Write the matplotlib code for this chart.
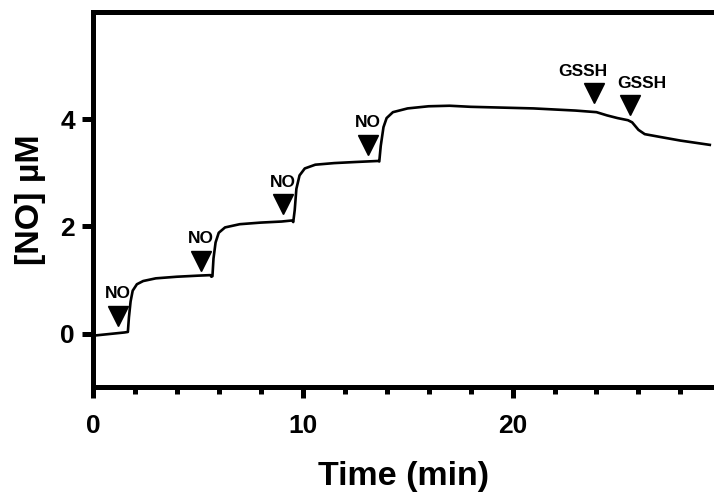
import matplotlib
matplotlib.use("Agg")
import matplotlib.pyplot as plt

# Trace data (time in min, [NO] in µM)
time_min = [0.0, 0.5, 1.0, 1.5, 1.67, 1.72, 1.8, 1.9, 2.1, 2.4, 3.0, 4.0, 5.0, 5.6,
            5.65, 5.7, 5.75, 5.85, 6.0, 6.3, 7.0, 8.0, 9.0, 9.5,
            9.55, 9.62, 9.7, 9.85, 10.1, 10.6, 11.5, 12.5, 13.6,
            13.65, 13.72, 13.85, 14.0, 14.3, 15.0, 16.0, 17.0, 18.0, 19.0, 20.0,
            21.0, 22.0, 23.0, 24.0, 24.5, 25.0, 25.5, 25.7, 26.0, 26.3, 27.0, 28.0, 29.4]
no_conc = [-0.04, -0.02, 0.0, 0.02, 0.03, 0.3, 0.6, 0.8, 0.92, 0.98, 1.03, 1.06, 1.08, 1.09,
           1.06, 1.07, 1.4, 1.7, 1.88, 1.98, 2.04, 2.07, 2.09, 2.11,
           2.08, 2.3, 2.7, 2.95, 3.08, 3.15, 3.18, 3.2, 3.22,
           3.21, 3.5, 3.85, 4.02, 4.13, 4.2, 4.24, 4.25, 4.23, 4.22, 4.21,
           4.2, 4.18, 4.16, 4.13, 4.07, 4.02, 3.98, 3.94, 3.8, 3.72, 3.67, 3.6, 3.52]

# Addition markers
mark_labels = ["NO", "NO", "NO", "NO", "GSSH", "GSSH"]
mark_x = [1.19, 5.14, 9.05, 13.1, 23.9, 25.6]
mark_y = [0.33, 1.36, 2.41, 3.52, 4.48, 4.26]
label_dx = [0.0, 0.0, 0.0, 0.0, -0.55, 0.55]

plt.rcParams['font.family'] = ['Liberation Sans', 'DejaVu Sans']
plt.rcParams['font.weight'] = 'bold'

fig = plt.figure(figsize=(7.14, 4.97), dpi=100)
ax = fig.add_axes([0.130, 0.221, 0.870, 0.755])

ax.plot(time_min, no_conc, color='black', lw=1.9, solid_joinstyle='round')

for lab, x, y, dx in zip(mark_labels, mark_x, mark_y, label_dx):
    ax.plot(x, y, marker='v', color='black', markersize=15, linestyle='none')
    ax.text(x + dx, y + 0.27, lab, ha='center', va='bottom', fontsize=12.5,
            fontweight='bold')

ax.set_xlim(0, 29.6)
ax.set_ylim(-1, 6)
ax.set_xticks([0, 10, 20])
ax.set_xticks([2, 4, 6, 8, 12, 14, 16, 18, 22, 24, 26, 28], minor=True)
ax.set_yticks([0, 2, 4])

for s in ['left', 'top', 'bottom']:
    ax.spines[s].set_linewidth(3.6)
ax.spines['right'].set_visible(False)

ax.tick_params(axis='both', which='major', width=3.6, length=8, labelsize=19)
ax.tick_params(axis='x', which='major', pad=11)
ax.tick_params(axis='y', which='major', pad=5)
ax.tick_params(axis='x', which='minor', width=3.6, length=5)
for lbl in ax.get_xticklabels() + ax.get_yticklabels():
    lbl.set_fontweight('bold')

ax.set_xlabel('Time (min)', fontsize=24.5, fontweight='bold', labelpad=17)
ax.set_ylabel('[NO] µM', fontsize=24.5, fontweight='bold', labelpad=10)

fig.savefig('out.png', dpi=100)
